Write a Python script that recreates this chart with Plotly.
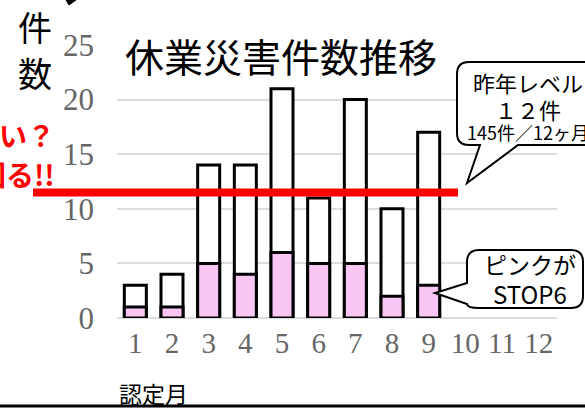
import plotly.graph_objects as go

# ---- data ----
months = [1, 2, 3, 4, 5, 6, 7, 8, 9]
tick_vals = list(range(1, 13))
tick_text = [str(m) for m in tick_vals]
totals = [3, 4, 14, 14, 21, 11, 20, 10, 17]
stop6 = [1, 1, 5, 4, 6, 5, 5, 2, 3]
last_year_level = 11.5

W, H = 585, 409
L, R, T, B = 117, 557, 45, 318   # plot area in pixels


def px(x):
    return (x - L) / (R - L)


def py(y):
    return (B - y) / (B - T)


fig = go.Figure()
fig.add_trace(go.Bar(
    x=months, y=totals, width=0.6,
    marker=dict(color="white", line=dict(color="black", width=3)),
    showlegend=False,
))
fig.add_trace(go.Bar(
    x=months, y=stop6, width=0.6,
    marker=dict(color="#F9C6F4", line=dict(color="black", width=3)),
    showlegend=False,
))

serif = "Liberation Serif, Times New Roman, serif"
jp = "Noto Sans CJK JP, sans-serif"

fig.update_layout(
    width=W, height=H,
    margin=dict(l=L, r=W - R, t=T, b=H - B),
    barmode="overlay",
    plot_bgcolor="white", paper_bgcolor="white",
    xaxis=dict(
        range=[0.5, 12.5], tickmode="array", tickvals=tick_vals, ticktext=tick_text,
        tickangle=0, showgrid=False, zeroline=False, showline=False, ticks="",
        tickfont=dict(family=serif, size=29, color="#666666"),
        ticklabelstandoff=5,
    ),
    yaxis=dict(
        range=[0, 25], tickmode="array", tickvals=[0, 5, 10, 15, 20, 25],
        showgrid=True, gridcolor="#DCDCDC", gridwidth=2,
        zeroline=True, zerolinecolor="#DCDCDC", zerolinewidth=2,
        showline=False, ticks="",
        tickfont=dict(family=serif, size=31, color="#666666"),
        ticklabelstandoff=22,
    ),
)

shapes = []
# last-year level red line
shapes.append(dict(type="line", xref="paper", yref="y",
                   x0=px(33), x1=px(458), y0=last_year_level, y1=last_year_level,
                   line=dict(color="#FF0000", width=8), layer="above"))


def svg(cmds):
    out = []
    for c in cmds:
        if isinstance(c, str):
            out.append(c)
        else:
            out.append(f"{px(c[0]):.5f},{py(c[1]):.5f}")
    return " ".join(out)


# callout 1 (top right)
c1 = svg(["M", (469, 62), "L", (610, 62), "L", (610, 145), "L", (518, 145),
          "L", (467, 183), "L", (480, 145), "L", (469, 145),
          "Q", (457, 145), (457, 133), "L", (457, 74), "Q", (457, 62), (469, 62), "Z"])
shapes.append(dict(type="path", xref="paper", yref="paper", path=c1,
                   fillcolor="white", line=dict(color="black", width=2), layer="above"))
# callout 2 (bottom right)
c2 = svg(["M", (479, 250), "L", (571, 250), "Q", (583, 250), (583, 262), "L", (583, 296),
          "Q", (583, 308), (571, 308), "L", (479, 308), "Q", (467, 308), (467, 304),
          "L", (435, 293), "L", (467, 283), "L", (467, 262), "Q", (467, 250), (479, 250), "Z"])
shapes.append(dict(type="path", xref="paper", yref="paper", path=c2,
                   fillcolor="white", line=dict(color="black", width=2), layer="above"))
# bottom black border line
shapes.append(dict(type="line", xref="paper", yref="paper",
                   x0=px(0), x1=px(585), y0=py(406), y1=py(406),
                   line=dict(color="black", width=3), layer="above"))
# small black mark at top
shapes.append(dict(type="path", xref="paper", yref="paper",
                   path=svg(["M", (66, 0), "L", (76, 0), "L", (69, 5), "Z"]),
                   fillcolor="black", line=dict(color="black", width=1), layer="above"))
fig.update_layout(shapes=shapes)

ann = []


def text(t, x, y, size, color="black", family=jp, xanchor="center", bold=False, bg=None):
    d = dict(text=f"<b>{t}</b>" if bold else t, xref="paper", yref="paper",
             x=px(x), y=py(y), xanchor=xanchor, yanchor="middle", showarrow=False,
             font=dict(family=family, size=size, color=color))
    if bg:
        d["bgcolor"] = bg
    ann.append(d)


text("休業災害件数推移", 281, 55, 39, bg="white")
text("件", 35, 26, 34)
text("数", 35, 72, 34)
text("多い？", 57, 135, 28, color="#FF0000", xanchor="right", bold=True)
text("上回る!!", 57, 174, 28, color="#FF0000", xanchor="right", bold=True)
text("昨年レベル", 528, 82, 22)
text("１２件", 528, 109, 22)
text("145件／12ヶ月", 465, 132, 18, xanchor="left")
text("ピンクが", 530, 264, 23)
text("STOP6", 530, 293, 24)
text("認定月", 117, 393, 23, xanchor="left")
fig.update_layout(annotations=ann)

fig.write_html("out.html")
